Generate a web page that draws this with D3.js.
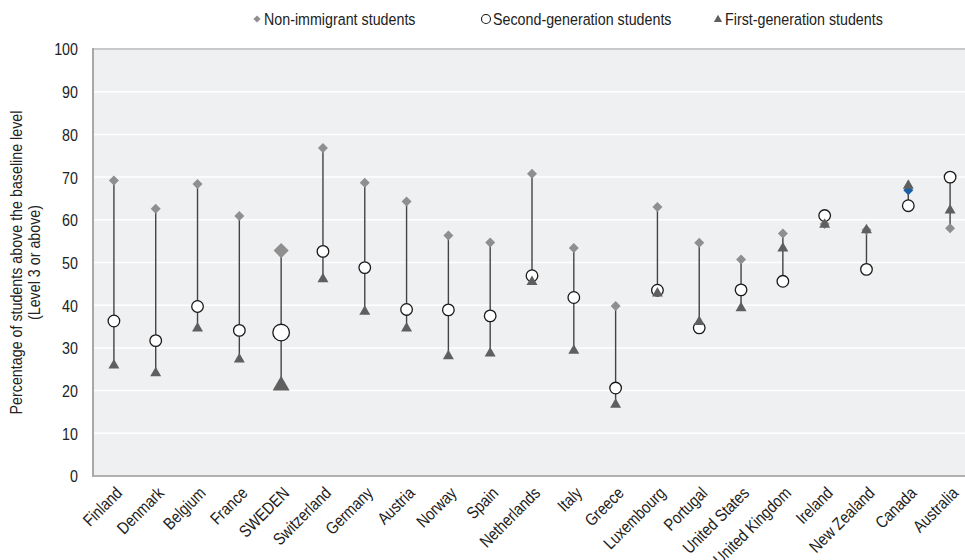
<!DOCTYPE html>
<html><head><meta charset="utf-8">
<script src="https://cdn.jsdelivr.net/npm/d3@7"></script>
<style>html,body{margin:0;padding:0;background:#fff;}svg{display:block;}</style>
</head><body>
<svg id="chart" width="965" height="560"></svg>
<script>
const countries = ["Finland","Denmark","Belgium","France","SWEDEN","Switzerland","Germany","Austria","Norway","Spain","Netherlands","Italy","Greece","Luxembourg","Portugal","United States","United Kingdom","Ireland","New Zealand","Canada","Australia"];
const nonImmigrant = [69.2,62.6,68.4,60.9,52.8,76.8,68.7,64.3,56.3,54.7,70.8,53.4,39.8,63.0,54.6,50.7,56.8,59.0,57.6,66.9,58.0];
const secondGen   = [36.3,31.7,39.7,34.1,33.6,52.6,48.8,39.0,38.9,37.5,46.9,41.8,20.6,43.5,34.7,43.6,45.6,61.0,48.4,63.3,70.0];
const firstGen    = [25.9,24.1,34.6,27.3,21.2,46.1,38.5,34.6,28.1,28.7,45.5,29.4,16.7,42.8,36.1,39.3,53.3,58.9,57.6,68.0,62.2];
const yTicks = [0,10,20,30,40,50,60,70,80,90,100];
const seriesNames = ["Non-immigrant students","Second-generation students","First-generation students"];
const highlight = "SWEDEN";
const blueCountry = "Canada";

const svg = d3.select("#chart");

const FONT = "'Liberation Sans', Arial, sans-serif";
const FS = 17;
const SX = 0.84; // horizontal condensing to mimic a narrow face

const pLeft = 93, pRight = 971, pTop = 49, pBottom = 476;
const x = d3.scaleBand().domain(countries).range([pLeft, pRight]).paddingInner(0).paddingOuter(0);
const cx = c => x(c) + x.bandwidth()/2;
const y = d3.scaleLinear().domain([0,100]).range([pBottom, pTop]);

svg.append("rect").attr("x", pLeft).attr("y", pTop).attr("width", pRight-pLeft).attr("height", pBottom-pTop).attr("fill", "#eff0f2");

svg.append("g").selectAll("line").data(yTicks.filter(d => d>0 && d<100)).join("line")
  .attr("x1", pLeft).attr("x2", pRight).attr("y1", d=>y(d)).attr("y2", d=>y(d))
  .attr("stroke", "#ffffff").attr("stroke-width", 1.5);

svg.append("line").attr("x1", pLeft).attr("x2", pRight).attr("y1", pTop).attr("y2", pTop).attr("stroke", "#c9c9c9").attr("stroke-width", 2);
svg.append("line").attr("x1", pLeft).attr("x2", pRight).attr("y1", pBottom).attr("y2", pBottom).attr("stroke", "#b0b0b0").attr("stroke-width", 2);
svg.append("line").attr("x1", pLeft).attr("x2", pLeft).attr("y1", pTop-1).attr("y2", pBottom+1).attr("stroke", "#a8a8a8").attr("stroke-width", 2);

// y axis
const yAxis = d3.axisLeft(y).tickValues(yTicks).tickSize(0).tickPadding(0).tickFormat(d3.format("d"));
const gy = svg.append("g").attr("transform", `translate(${pLeft-15},0)`).call(yAxis);
gy.select(".domain").remove();
gy.selectAll("text").attr("font-family", FONT).attr("font-size", FS).attr("fill", "#222")
  .attr("x", 0).attr("dy", "0.35em").attr("text-anchor", "end").attr("transform", `scale(${SX},1)`);

// y title
const yt = svg.append("text").attr("transform", `translate(27,${(pTop+pBottom)/2}) rotate(-90) scale(${SX},1)`)
  .attr("text-anchor", "middle").attr("font-family", FONT).attr("font-size", FS).attr("fill", "#222");
yt.append("tspan").attr("x", 0).attr("dy", "-0.3em").text("Percentage of students above the baseline level");
yt.append("tspan").attr("x", 0).attr("dy", "1.05em").text("(Level 3 or above)");

// x axis labels
const xAxis = d3.axisBottom(x).tickSize(0).tickPadding(0);
const gx = svg.append("g").attr("transform", `translate(0,${pBottom})`).call(xAxis);
gx.select(".domain").remove();
gx.selectAll(".tick").attr("transform", d => `translate(${cx(d)},0)`);
gx.selectAll(".tick text").attr("font-family", FONT).attr("font-size", FS).attr("fill", "#222")
  .attr("text-anchor", "end").attr("dy", "0.35em").attr("x", 0).attr("y", 0)
  .attr("transform", `translate(5,14) rotate(-45) scale(${SX},1)`);

const rows = countries.map((c,i) => ({c, n: nonImmigrant[i], s: secondGen[i], f: firstGen[i]}));

svg.append("g").selectAll("line").data(rows).join("line")
  .attr("x1", d=>cx(d.c)).attr("x2", d=>cx(d.c))
  .attr("y1", d=>y(Math.max(d.n,d.s,d.f))).attr("y2", d=>y(Math.min(d.n,d.s,d.f)))
  .attr("stroke", "#444").attr("stroke-width", 1.4);

const big = d => d.c === highlight;
svg.append("g").selectAll("path").data(rows).join("path")
  .attr("d", d => d3.symbol(d3.symbolSquare, big(d) ? 115 : 50)())
  .attr("transform", d => `translate(${cx(d.c)},${y(d.n)}) rotate(45)`)
  .attr("fill", d => d.c === blueCountry ? "#1760a8" : "#8f8f8f");
svg.append("g").selectAll("circle").data(rows).join("circle")
  .attr("cx", d=>cx(d.c)).attr("cy", d=>y(d.s)).attr("r", d => big(d) ? 8.3 : 5.8)
  .attr("fill", "#fff").attr("stroke", "#1a1a1a").attr("stroke-width", 1.3);
svg.append("g").selectAll("path").data(rows).join("path")
  .attr("d", d => d3.symbol(d3.symbolTriangle, big(d) ? 125 : 52)())
  .attr("transform", d => `translate(${cx(d.c)},${y(d.f)})`)
  .attr("fill", "#5f5f5f");

// legend
const lg = svg.append("g");
const ly = 19;
const items = [
  {x: 257, name: seriesNames[0], kind: "d"},
  {x: 486, name: seriesNames[1], kind: "c"},
  {x: 718, name: seriesNames[2], kind: "t"}
];
items.forEach(it => {
  if (it.kind === "d") lg.append("path").attr("d", d3.symbol(d3.symbolSquare, 26)()).attr("transform", `translate(${it.x},${ly}) rotate(45)`).attr("fill", "#8f8f8f");
  if (it.kind === "c") lg.append("circle").attr("cx", it.x).attr("cy", ly).attr("r", 4.5).attr("fill", "#fff").attr("stroke", "#1a1a1a").attr("stroke-width", 1.1);
  if (it.kind === "t") lg.append("path").attr("d", d3.symbol(d3.symbolTriangle, 30)()).attr("transform", `translate(${it.x},${ly+0.5})`).attr("fill", "#5f5f5f");
  lg.append("text").attr("transform", `translate(${it.x + 7},${ly}) scale(${SX},1)`).attr("dy", "0.35em")
    .attr("font-family", FONT).attr("font-size", FS).attr("fill", "#222").text(it.name);
});
</script>
</body></html>
